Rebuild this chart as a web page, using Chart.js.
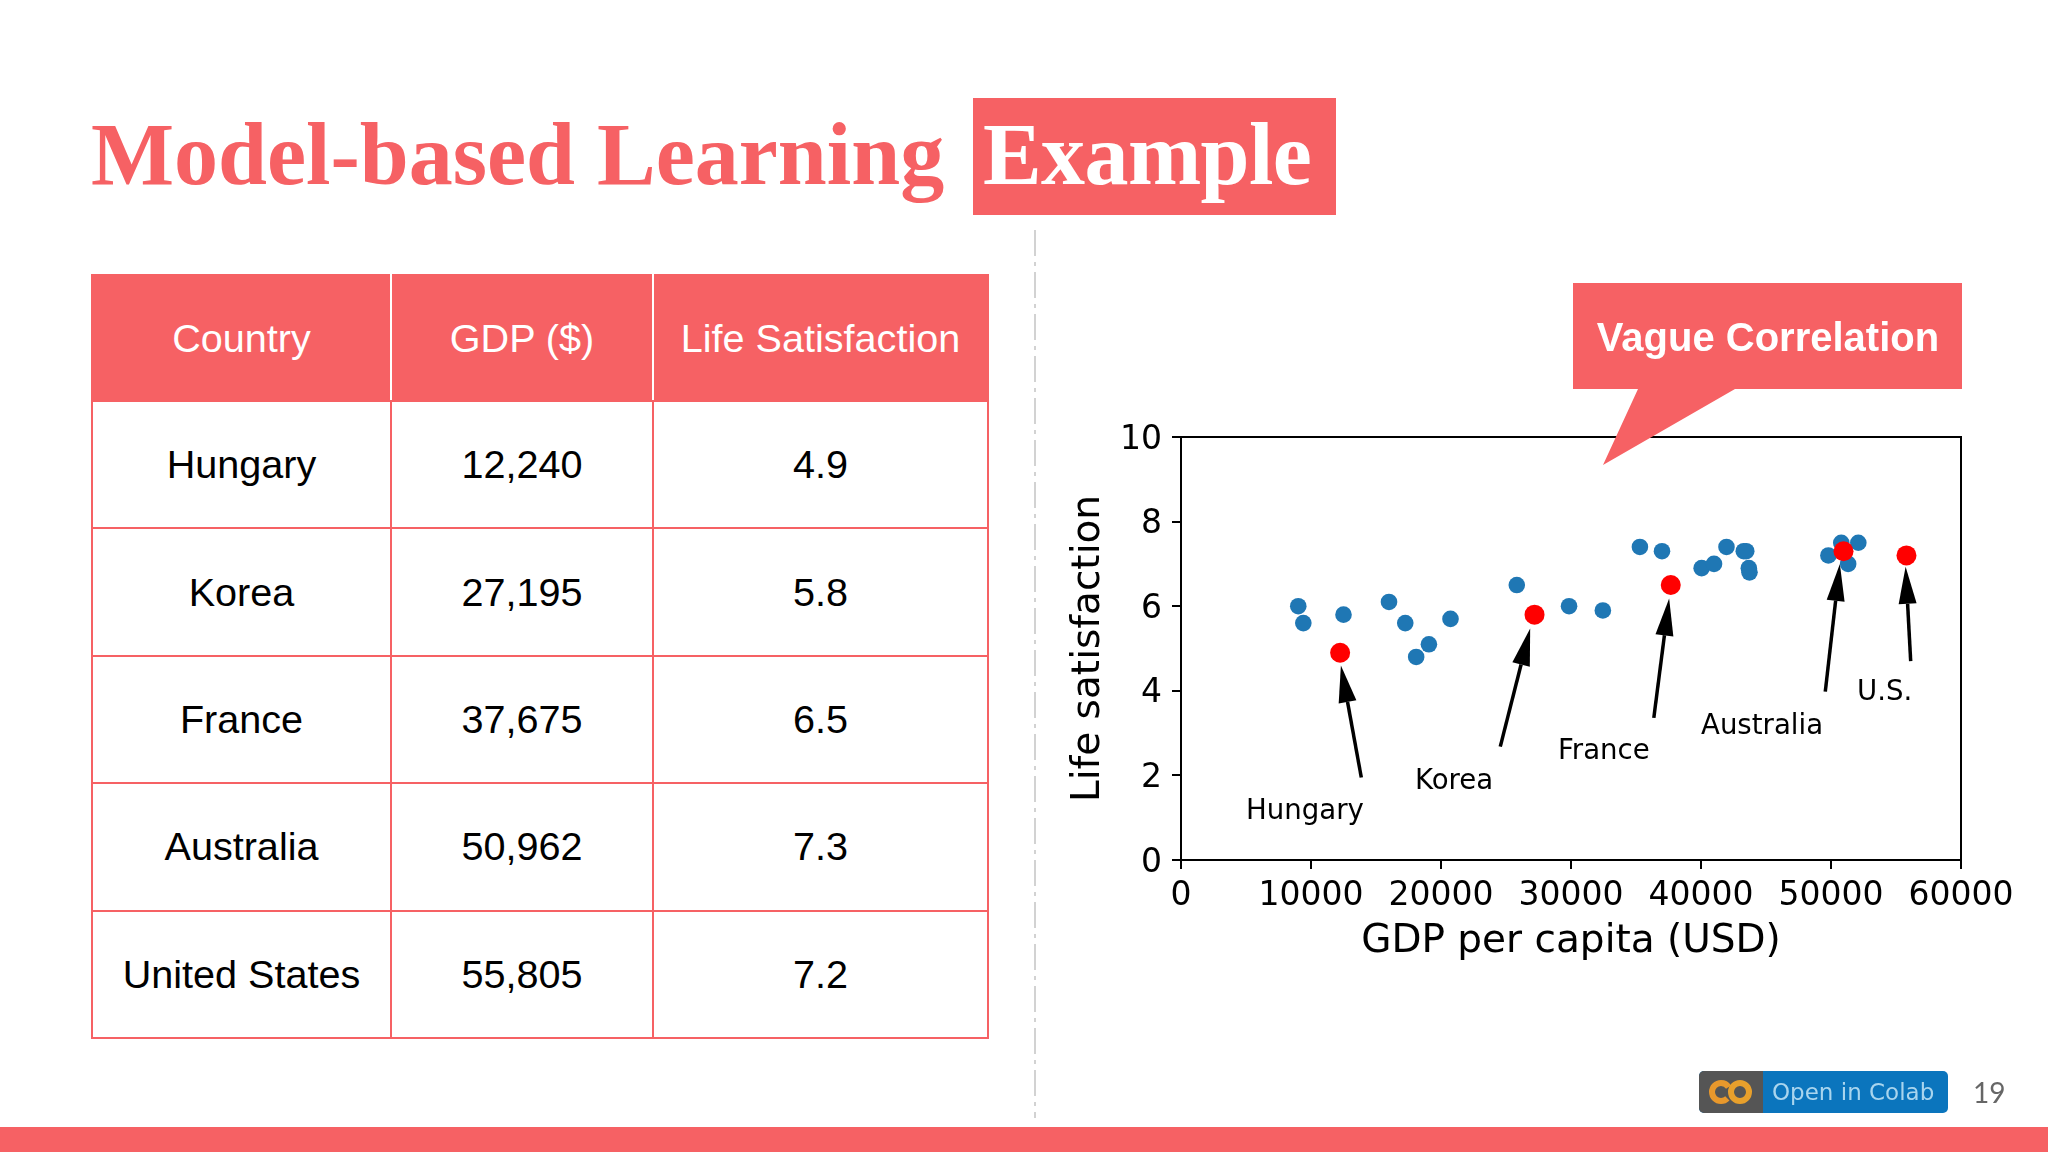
<!DOCTYPE html>
<html>
<head>
<meta charset="utf-8">
<title>Model-based Learning Example</title>
<script src="https://cdn.jsdelivr.net/npm/chart.js@4"></script>
<style>
  html, body { margin: 0; padding: 0; background: #fff; }
  #slide { position: relative; width: 2048px; height: 1152px; overflow: hidden; background: #fff; }
  .abs { position: absolute; }
  .title { font-family: "Liberation Serif", serif; font-weight: bold; font-size: 88px; line-height: 1; white-space: nowrap; }
  #title1 { left: 91px; top: 111px; color: #f66164; }
  #titleBox { left: 973px; top: 98px; width: 363px; height: 117px; background: #f66164; }
  #title2 { left: 983px; top: 111px; color: #fff; letter-spacing: -0.6px; }
  table { position: absolute; left: 91px; top: 274px; width: 896px; height: 763px; border-collapse: collapse; table-layout: fixed;
    font-family: "Liberation Sans", sans-serif; font-size: 39.6px; text-align: center; color: #000; }
  tr { height: 127.4px; }
  tr:first-child { height: 126px; }
  th { background: #f66164; color: #fff; font-weight: normal; border: 2px solid #f66164; border-left-color: #fff; border-right-color: #fff; padding: 0; }
  th:first-child { border-left-color: #f66164; }
  th:last-child { border-right-color: #f66164; }
  td { border: 2px solid #f66164; padding: 0; }
  #divider { left: 1033px; top: 230px; }
  #chartBox { left: 1065px; top: 400px; width: 983px; height: 565px; }
  #callout { left: 0; top: 0; pointer-events: none; }
  #calloutText { left: 1573px; top: 284px; width: 390px; height: 106px; line-height: 106px; text-align: center; color: #fff;
    font-family: "Liberation Sans", sans-serif; font-weight: bold; font-size: 40px; }
  #bar { left: 0; top: 1127px; width: 2048px; height: 25px; background: #f66164; }
  #badge { left: 1699px; top: 1071px; width: 249px; height: 42px; border-radius: 5px; overflow: hidden; background: #0b75bd; }
  #badgeLeft { left: 0; top: 0; width: 64px; height: 42px; background: #555; }
  #badgeText { left: 73px; top: 0; line-height: 42px; color: #a9d5ee; font-family: "DejaVu Sans", sans-serif; font-size: 23px; white-space: nowrap; }
  #pageNo { left: 1973px; top: 1074px; line-height: 36px; color: #666; font-family: Lato, sans-serif; font-size: 28px; }
</style>
</head>
<body>
<div id="slide">
  <div id="title1" class="abs title">Model-based Learning</div>
  <div id="titleBox" class="abs"></div>
  <div id="title2" class="abs title">Example</div>
  <table id="dataTable"></table>
  <svg id="divider" class="abs" width="4" height="888"><line x1="2" y1="0" x2="2" y2="888" stroke="#c4c4c4" stroke-width="1.5" stroke-dasharray="26 6 4 6"/></svg>
  <div id="chartBox" class="abs"><canvas id="chart"></canvas></div>
  <svg id="callout" class="abs" width="2048" height="1152">
    <polygon points="1573,283 1962,283 1962,389 1735,389 1603,465 1638,389 1573,389" fill="#f66164"/>
  </svg>
  <div id="calloutText" class="abs">Vague Correlation</div>
  <div id="bar" class="abs"></div>
  <div id="badge" class="abs">
    <div id="badgeLeft" class="abs"></div>
    <svg class="abs" style="left:9px;top:8px" width="46" height="26">
      <circle cx="13" cy="13" r="9" fill="none" stroke="#e8982c" stroke-width="6" stroke-dasharray="44 13" stroke-dashoffset="-7"/>
      <circle cx="32" cy="13" r="9" fill="none" stroke="#e8a02c" stroke-width="6"/>
    </svg>
    <div id="badgeText" class="abs">Open in Colab</div>
  </div>
  <div id="pageNo" class="abs">19</div>
</div>

<script>
const tableHead = ["Country", "GDP ($)", "Life Satisfaction"]
const countries = ["Hungary", "Korea", "France", "Australia", "United States"]
const gdpLabels = ["12,240", "27,195", "37,675", "50,962", "55,805"]
const lifeLabels = ["4.9", "5.8", "6.5", "7.3", "7.2"]

const otherGdp = [9020, 9410, 12500, 16000, 17250, 18090, 19070, 20730, 25830, 29850, 32450, 35300,
  37000, 40050, 41000, 41960, 43290, 43480, 43680, 43730, 49800, 50790, 51320, 52100]
const otherLife = [6.0, 5.6, 5.8, 6.1, 5.6, 4.8, 5.1, 5.7, 6.5, 6.0, 5.9, 7.4,
  7.3, 6.9, 7.0, 7.4, 7.3, 7.3, 6.9, 6.8, 7.2, 7.5, 7.0, 7.5]

const shownGdp = [12240, 27195, 37675, 50962, 55805]
const shownLife = [4.9, 5.8, 6.5, 7.3, 7.2]

const noteNames = ["Hungary", "Korea", "France", "Australia", "U.S."]
const noteX = [5000, 18000, 29000, 40000, 52000]
const noteY = [1.0, 1.7, 2.4, 3.0, 3.8]
const tailX = [13870, 24560, 36370, 49560, 56130]
const tailY = [1.95, 2.68, 3.36, 3.98, 4.7]
const tipX = [12300, 26860, 37550, 50680, 55740]
const tipY = [4.6, 5.47, 6.18, 7.0, 6.93]

function columnWidth(i) {
  return [299, 262, 335][i]
}

function buildTable() {
  const table = document.getElementById("dataTable")
  let html = "<colgroup>" + tableHead.map((_, i) => `<col style="width:${columnWidth(i)}px">`).join("") + "</colgroup>"
  html += "<tr>" + tableHead.map(h => `<th>${h}</th>`).join("") + "</tr>"
  countries.forEach((c, i) => {
    html += `<tr><td>${c}</td><td>${gdpLabels[i]}</td><td>${lifeLabels[i]}</td></tr>`
  })
  table.innerHTML = html
}

function drawArrow(ctx, x1, y1, x2, y2) {
  const angle = Math.atan2(y2 - y1, x2 - x1)
  const headLen = 37
  const headHalf = 9
  const baseX = x2 - headLen * Math.cos(angle)
  const baseY = y2 - headLen * Math.sin(angle)
  ctx.beginPath()
  ctx.moveTo(x1, y1)
  ctx.lineTo(baseX, baseY)
  ctx.lineWidth = 3.5
  ctx.strokeStyle = "#000"
  ctx.stroke()
  ctx.beginPath()
  ctx.moveTo(x2, y2)
  ctx.lineTo(baseX + headHalf * Math.sin(angle), baseY - headHalf * Math.cos(angle))
  ctx.lineTo(baseX - headHalf * Math.sin(angle), baseY + headHalf * Math.cos(angle))
  ctx.closePath()
  ctx.fillStyle = "#000"
  ctx.fill()
}

const frameAndNotes = {
  id: "frameAndNotes",
  afterDatasetsDraw(chart) {
    const { ctx, chartArea, scales } = chart
    ctx.save()
    ctx.strokeStyle = "#000"
    ctx.lineWidth = 2
    ctx.strokeRect(chartArea.left, chartArea.top, chartArea.right - chartArea.left, chartArea.bottom - chartArea.top)

    noteNames.forEach((name, i) => {
      drawArrow(ctx, scales.x.getPixelForValue(tailX[i]), scales.y.getPixelForValue(tailY[i]),
        scales.x.getPixelForValue(tipX[i]), scales.y.getPixelForValue(tipY[i]))
      ctx.fillStyle = "#000"
      ctx.font = '27.6px "DejaVu Sans"'
      ctx.textAlign = "left"
      ctx.textBaseline = "alphabetic"
      ctx.fillText(name, scales.x.getPixelForValue(noteX[i]), scales.y.getPixelForValue(noteY[i]) + 1)
    })
    ctx.restore()
  }
}

buildTable()

new Chart(document.getElementById("chart"), {
  type: "scatter",
  data: {
    datasets: [
      {
        label: "Other countries",
        data: otherGdp.map((x, i) => ({ x, y: otherLife[i] })),
        backgroundColor: "#1f77b4",
        borderWidth: 0,
        pointRadius: 8.3,
        order: 2
      },
      {
        label: "Shown countries",
        data: shownGdp.map((x, i) => ({ x, y: shownLife[i] })),
        backgroundColor: "#ff0000",
        borderWidth: 0,
        pointRadius: 10,
        order: 1
      }
    ]
  },
  options: {
    responsive: true,
    maintainAspectRatio: false,
    animation: false,
    layout: { padding: { top: 37, right: 87, left: 0, bottom: 0 } },
    plugins: { legend: { display: false }, tooltip: { enabled: false } },
    scales: {
      x: {
        type: "linear",
        min: 0,
        max: 60000,
        afterFit(scale) { scale.height = 105 },
        grid: { drawOnChartArea: false, color: "#000", tickLength: 9, lineWidth: 2 },
        border: { color: "#000", width: 2 },
        ticks: { stepSize: 10000, color: "#000", maxRotation: 0, padding: 8, font: { family: "DejaVu Sans", size: 33 }, callback: v => String(v) },
        title: { display: true, text: "GDP per capita (USD)", color: "#000", padding: 0, font: { family: "DejaVu Sans", size: 39 } }
      },
      y: {
        min: 0,
        max: 10,
        afterFit(scale) { scale.width = 116 },
        grid: { drawOnChartArea: false, color: "#000", tickLength: 9, lineWidth: 2 },
        border: { color: "#000", width: 2 },
        ticks: { stepSize: 2, color: "#000", padding: 10, labelOffset: 3, font: { family: "DejaVu Sans", size: 33 } },
        title: { display: true, text: "Life satisfaction", color: "#000", padding: 0, font: { family: "DejaVu Sans", size: 39 } }
      }
    }
  },
  plugins: [frameAndNotes]
})
</script>
</body>
</html>
